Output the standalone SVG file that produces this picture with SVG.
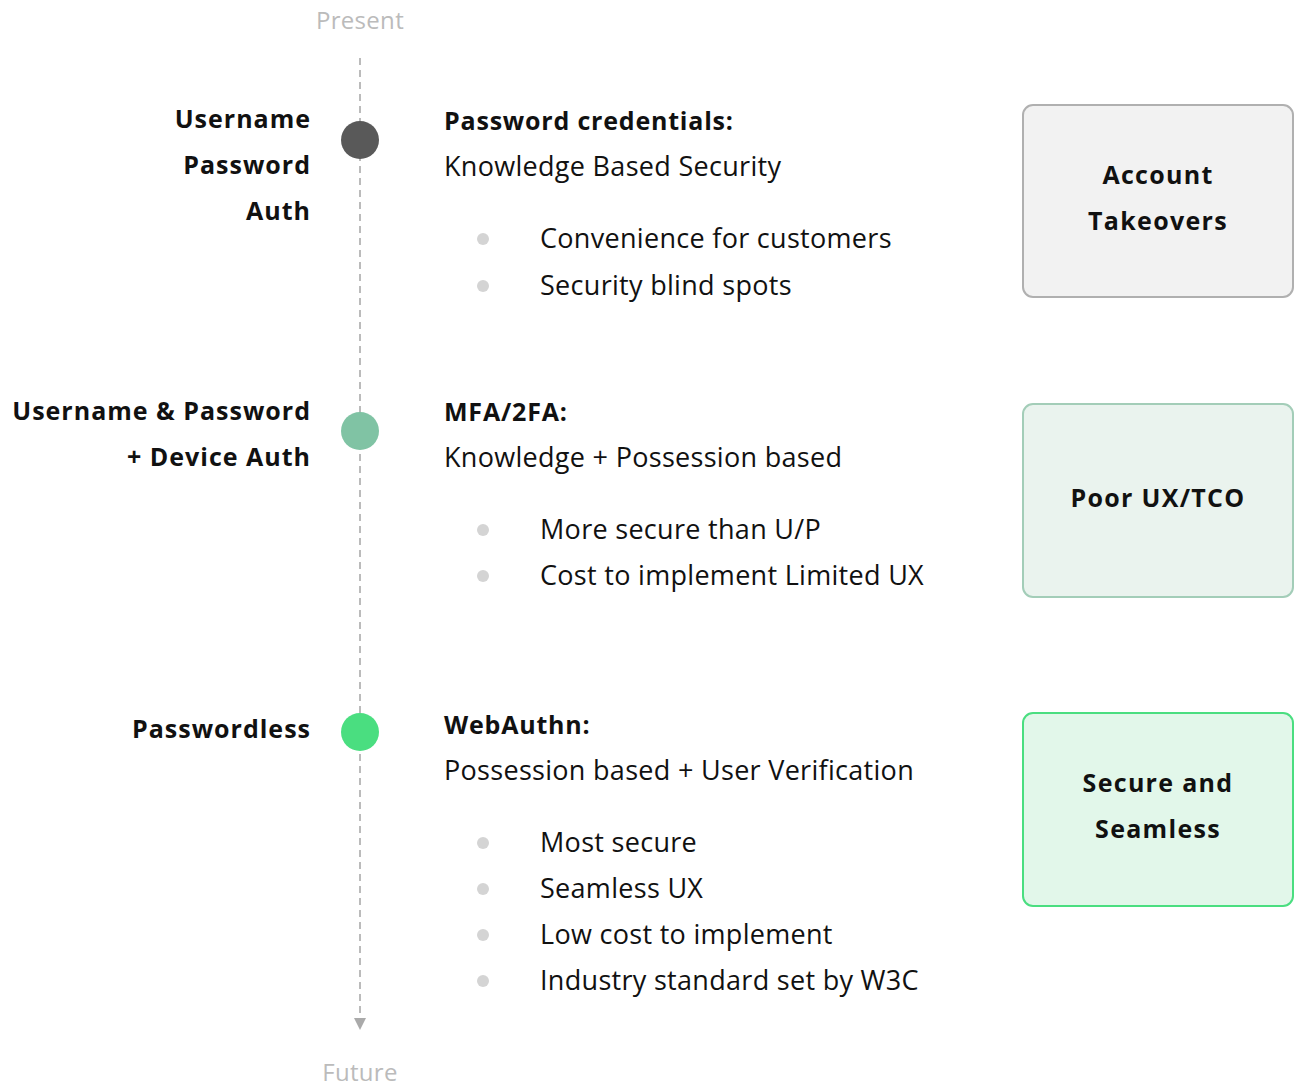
<svg xmlns="http://www.w3.org/2000/svg" width="1294" height="1089" viewBox="0 0 1294 1089">
<defs>
<style>
text{font-family:"Open Sans","Liberation Sans",sans-serif;fill:#111}
.lbl{font-size:25px;font-weight:700;text-anchor:end;letter-spacing:1px}
.hd{font-size:25px;font-weight:700;letter-spacing:0.8px}
.sub{font-size:27px;font-weight:400;letter-spacing:0.3px}
.bt{font-size:27px;font-weight:400;letter-spacing:0.3px}
.bx{font-size:25px;font-weight:700;text-anchor:middle;letter-spacing:1.3px}
.tm{font-size:24px;fill:#bbbbbb;text-anchor:middle;letter-spacing:0.3px}
.dot{fill:#d4d4d4}
</style>
</defs>
<rect width="1294" height="1089" fill="#ffffff"/>
<text class="tm" x="360" y="29">Present</text>
<text class="tm" x="360" y="1081">Future</text>
<g id="connectors">
<line x1="360" y1="58" x2="360" y2="1026" stroke="#bbbbbb" stroke-width="2" stroke-dasharray="7 5"/>
<path d="M354,1018 L366,1018 L360,1030 z" fill="#aaaaaa"/>
</g>
<g id="stage1">
<circle cx="360" cy="140" r="19" fill="#595959"/>
<text class="lbl" x="311" y="128">Username</text>
<text class="lbl" x="311" y="174">Password</text>
<text class="lbl" x="311" y="220">Auth</text>
<text class="hd" x="444" y="130">Password credentials:</text>
<text class="sub" x="444" y="176">Knowledge Based Security</text>
<circle class="dot" cx="483" cy="239" r="6"/>
<circle class="dot" cx="483" cy="286" r="6"/>
<text class="bt" x="540" y="248">Convenience for customers</text>
<text class="bt" x="540" y="295">Security blind spots</text>
</g>
<g id="box1">
<rect x="1023" y="105" width="270" height="192" rx="10" fill="#f2f2f2" stroke="#b0b0b0" stroke-width="2"/>
<text class="bx" x="1158" y="184">Account</text>
<text class="bx" x="1158" y="230">Takeovers</text>
</g>
<g id="stage2">
<circle cx="360" cy="431" r="19" fill="#80c3a4"/>
<text class="lbl" x="311" y="420">Username &amp; Password</text>
<text class="lbl" x="311" y="466">+ Device Auth</text>
<text class="hd" x="444" y="421">MFA/2FA:</text>
<text class="sub" x="444" y="467">Knowledge + Possession based</text>
<circle class="dot" cx="483" cy="530" r="6"/>
<circle class="dot" cx="483" cy="576" r="6"/>
<text class="bt" x="540" y="539">More secure than U/P</text>
<text class="bt" x="540" y="585">Cost to implement Limited UX</text>
</g>
<g id="box2">
<rect x="1023" y="404" width="270" height="193" rx="10" fill="#eaf3ee" stroke="#a3cdb8" stroke-width="2"/>
<text class="bx" x="1158" y="507">Poor UX/TCO</text>
</g>
<g id="stage3">
<circle cx="360" cy="732" r="19" fill="#4ade80"/>
<text class="lbl" x="311" y="738">Passwordless</text>
<text class="hd" x="444" y="734">WebAuthn:</text>
<text class="sub" x="444" y="780">Possession based + User Verification</text>
<circle class="dot" cx="483" cy="843" r="6"/>
<circle class="dot" cx="483" cy="889" r="6"/>
<circle class="dot" cx="483" cy="935" r="6"/>
<circle class="dot" cx="483" cy="981" r="6"/>
<text class="bt" x="540" y="852">Most secure</text>
<text class="bt" x="540" y="898">Seamless UX</text>
<text class="bt" x="540" y="944">Low cost to implement</text>
<text class="bt" x="540" y="990">Industry standard set by W3C</text>
</g>
<g id="box3">
<rect x="1023" y="713" width="270" height="193" rx="10" fill="#e2f7ea" stroke="#4ade80" stroke-width="2"/>
<text class="bx" x="1158" y="792">Secure and</text>
<text class="bx" x="1158" y="838">Seamless</text>
</g>
</svg>
